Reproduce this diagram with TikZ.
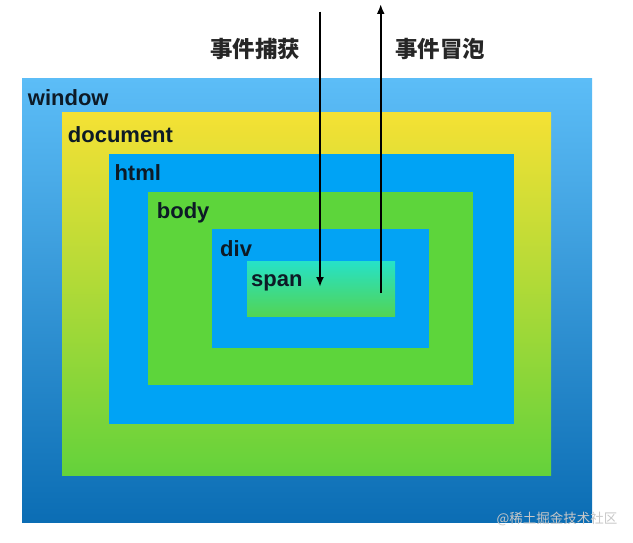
\documentclass[tikz,border=0pt]{standalone}
\usepackage{fontspec}
\setmainfont{Liberation Sans}
\newfontfamily\cjk{Noto Sans CJK SC}
\usetikzlibrary{arrows.meta}

\definecolor{winTop}{HTML}{5CBDF7}
\definecolor{winBot}{HTML}{0B6DB4}
\definecolor{docTop}{HTML}{F5E134}
\definecolor{docBot}{HTML}{64D23B}
\definecolor{htmlBlue}{HTML}{00A3F5}
\definecolor{bodyGreen}{HTML}{5DD53B}
\definecolor{divBlue}{HTML}{03A3F4}
\definecolor{spanTop}{HTML}{26E2C8}
\definecolor{spanBot}{HTML}{52D455}
\definecolor{lblText}{HTML}{0D1A26}

\begin{document}
\begin{tikzpicture}[x=1pt,y=-1pt,
  boxlbl/.style={anchor=base west,inner sep=0pt,font=\fontsize{22}{26}\selectfont\bfseries,text=lblText},
  flowlbl/.style={inner sep=0pt,font=\cjk\fontsize{22.5}{26}\selectfont\bfseries,text=black!85},
  flow/.style={line width=2pt,-{Latex[length=10pt,width=8pt]}}]
\useasboundingbox (0,0) rectangle (633,543);
% nested boxes
\shade[top color=winTop,bottom color=winBot] (22,79) rectangle (592,522);
\shade[top color=docTop,bottom color=docBot] (62,113) rectangle (551,475);
\fill[htmlBlue] (109,154) rectangle (514,424);
\fill[bodyGreen] (148,192) rectangle (473,385);
\fill[divBlue] (212,229) rectangle (429,348);
\shade[top color=spanTop,bottom color=spanBot] (247,261) rectangle (395,316);
% box labels
\node[boxlbl] (lwindow) at (27.7,105.7) {window};
\node[boxlbl] (ldocument) at (67.7,142.7) {document};
\node[boxlbl] (lhtml) at (114.3,180) {html};
\node[boxlbl] (lbody) at (156.7,218.3) {body};
\node[boxlbl] (ldiv) at (220,256.7) {div};
\node[boxlbl] (lspan) at (251,286) {span};
% event flow
\node[flowlbl] (capture) at (255,48.5) {事件捕获};
\node[flowlbl] (bubble) at (440,48.5) {事件冒泡};
\coordinate (capTop) at (320,11.7);
\coordinate (capEnd) at (320,287);
\coordinate (bubStart) at (380.7,293);
\coordinate (bubTop) at (380.7,4);
\draw[flow] (capTop) -- (capEnd);
\draw[flow] (bubStart) -- (bubTop);
\node[font=\cjk\fontsize{13.5}{15}\selectfont,text=black!22,inner sep=0pt] (mark) at (557,519) {@稀土掘金技术社区};
\end{tikzpicture}
\end{document}
